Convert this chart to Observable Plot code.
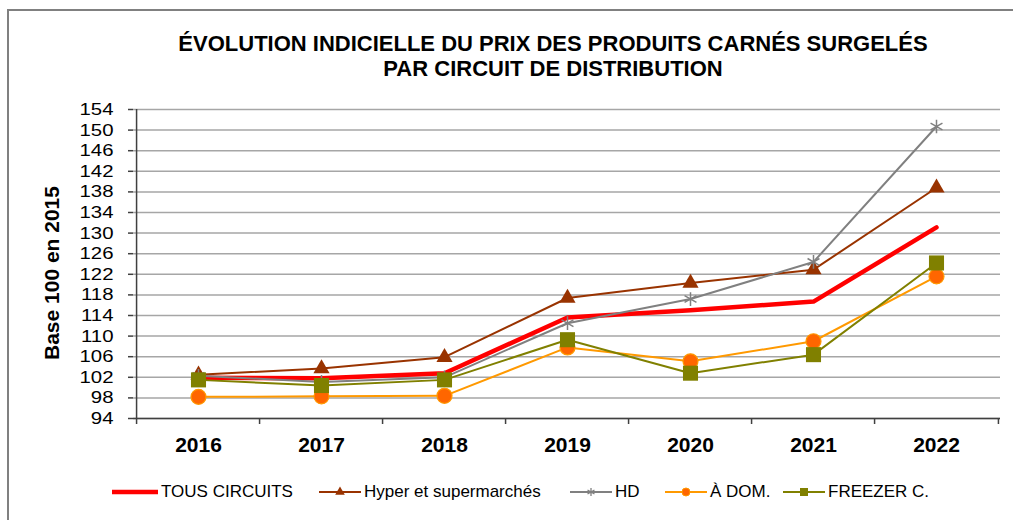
<!DOCTYPE html>
<html><head><meta charset="utf-8">
<script src="https://cdn.jsdelivr.net/npm/d3@7"></script>
<script src="https://cdn.jsdelivr.net/npm/@observablehq/plot@0.6"></script>
<style>
body{margin:0;background:#fff;font-family:"Liberation Sans",Arial,sans-serif;}
#wrap{position:relative;width:1013px;height:520px;overflow:hidden;background:#fff;}
#frame{position:absolute;left:7px;top:9px;right:-5px;bottom:-5px;border-left:2px solid #808080;border-top:2px solid #808080;}
#title{position:absolute;left:100px;width:906px;top:31px;text-align:center;font-weight:bold;font-size:22px;line-height:25px;color:#000;}
#chart{position:absolute;left:0;top:90px;}
#legend{position:absolute;top:481px;left:0;width:1013px;height:22px;font-size:17px;color:#000;}
.item{position:absolute;top:0;display:flex;align-items:center;height:22px;white-space:nowrap;}
.item svg{margin-right:3px;}
</style>
</head><body>
<div id="wrap">
  <div id="frame"></div>
  <div id="title">ÉVOLUTION INDICIELLE DU PRIX DES PRODUITS CARNÉS SURGELÉS<br>PAR CIRCUIT DE DISTRIBUTION</div>
  <div id="chart"></div>
  <div id="legend"></div>
</div>
<script>
const years = ["2016", "2017", "2018", "2019", "2020", "2021", "2022"];
const tousCircuits = [101.9, 101.8, 102.8, 113.6, 115.0, 116.7, 131.1];
const hyperSuper   = [102.5, 103.7, 105.9, 117.4, 120.3, 122.9, 138.8];
const hd           = [102.3, 101.1, 102.0, 112.5, 117.2, 124.4, 150.7];
const aDom         = [98.2, 98.3, 98.4, 107.8, 105.1, 109.0, 121.6];
const freezer      = [101.5, 100.4, 101.5, 109.3, 102.8, 106.4, 124.2];
const seriesNames  = ["TOUS CIRCUITS", "Hyper et supermarchés", "HD", "À DOM.", "FREEZER C."];
const yTicks = [94, 98, 102, 106, 110, 114, 118, 122, 126, 130, 134, 138, 142, 146, 150, 154];
const yLabel = "Base 100 en 2015";

const styles = [
  {stroke: "#ff0000", sw: 4.5, symbol: null},
  {stroke: "#993300", sw: 2, symbol: "triangle", fill: "#993300", r: 6},
  {stroke: "#808080", sw: 2, symbol: "asterisk", r: 6.5},
  {stroke: "#ff9900", sw: 2, symbol: "circle", fill: "#ff6600", r: 7.5},
  {stroke: "#808000", sw: 2, symbol: "square", fill: "#808000", r: 8.5}
];
const allValues = [tousCircuits, hyperSuper, hd, aDom, freezer];
const series = seriesNames.map((name, k) => ({
  name, style: styles[k],
  rows: years.map((year, i) => ({year, value: allValues[k][i], series: name}))
}));

const W = 1013, H = 380, mL = 133, mR = 13, mT = 19, mB = 52;
const half = (W - mL - mR) / years.length / 2;
const axisColor = "#404040";

const marks = [
  Plot.gridY(yTicks, {stroke: "#a6a6a6", strokeOpacity: 1, strokeWidth: 1.5}),
  Plot.ruleY([yTicks[0]], {stroke: axisColor, strokeWidth: 1.5}),
  Plot.ruleX([years[0]], {dx: -half, stroke: axisColor, strokeWidth: 1.5, insetBottom: -6}),
  Plot.ruleX(years.slice(1), {x: d => d, dx: -half, y1: yTicks[0], y2: yTicks[0], insetBottom: -6, stroke: axisColor, strokeWidth: 1.5}),
  Plot.ruleX([years[years.length - 1]], {x: d => d, dx: half, y1: yTicks[0], y2: yTicks[0], insetBottom: -6, stroke: axisColor, strokeWidth: 1.5}),
  Plot.axisY(yTicks, {tickSize: 5, tickPadding: 15, fontSize: 17, stroke: axisColor, strokeWidth: 1.5, label: null, fill: "#000"}),
  Plot.axisX({tickSize: 0, tickPadding: 19, fontSize: 21, fontWeight: "bold", label: null, fill: "#000"}),
  Plot.text([yLabel], {text: d => d, frameAnchor: "left", textAnchor: "middle", rotate: -90, dx: -81, dy: 9, fontSize: 21, fontWeight: "bold", fill: "#000"})
];
for (const s of series) {
  const st = s.style;
  marks.push(Plot.line(s.rows, {x: "year", y: "value", stroke: st.stroke, strokeWidth: st.sw}));
  if (st.symbol === "asterisk") {
    marks.push(Plot.dot(s.rows, {x: "year", y: "value", symbol: "asterisk", r: st.r, stroke: st.stroke, strokeWidth: 1.5, fill: "none"}));
  } else if (st.symbol === "circle") {
    marks.push(Plot.dot(s.rows, {x: "year", y: "value", symbol: "circle", r: st.r, fill: st.fill, stroke: st.stroke, strokeWidth: 1.2}));
  } else if (st.symbol) {
    marks.push(Plot.dot(s.rows, {x: "year", y: "value", symbol: st.symbol, r: st.r, fill: st.fill, stroke: "none"}));
  }
}

const chart = Plot.plot({
  width: W, height: H,
  marginLeft: mL, marginRight: mR, marginTop: mT, marginBottom: mB,
  style: {fontFamily: "'Liberation Sans', Arial, sans-serif", background: "transparent", color: "#000"},
  x: {type: "point", domain: years, padding: 0.5, axis: null},
  y: {domain: [yTicks[0], yTicks[yTicks.length - 1]], axis: null},
  marks
});
document.getElementById("chart").appendChild(chart);

// widen the y tick labels slightly, as in the reference rendering
d3.select(chart).selectAll("g[aria-label='y-axis tick label'] text").each(function () {
  const w = this.getComputedTextLength();
  this.setAttribute("textLength", (w * 1.2).toFixed(1));
  this.setAttribute("lengthAdjust", "spacingAndGlyphs");
});

// legend
const legendX = [112, 319, 570, 665, 783];
const legendW = [46, 42, 42, 42, 42];
const legend = d3.select("#legend");
series.forEach((s, k) => {
  const it = legend.append("div").attr("class", "item").style("left", legendX[k] + "px");
  const w = legendW[k];
  const svg = it.append("svg").attr("width", w).attr("height", 22);
  svg.append("line").attr("x1", 0).attr("x2", w).attr("y1", 11).attr("y2", 11)
    .attr("stroke", s.style.stroke).attr("stroke-width", s.style.sw).attr("stroke-linecap", k === 0 ? "round" : "butt");
  const sym = s.style.symbol;
  if (sym) {
    const symMap = {triangle: d3.symbolTriangle, asterisk: d3.symbolAsterisk, circle: d3.symbolCircle, square: d3.symbolSquare};
    const size = sym === "asterisk" ? 45 : sym === "square" ? 64 : sym === "circle" ? 50 : 40;
    const p = svg.append("path").attr("d", d3.symbol(symMap[sym], size)()).attr("transform", `translate(${w / 2},11)`);
    if (sym === "asterisk") p.attr("fill", "none").attr("stroke", s.style.stroke).attr("stroke-width", 1.3);
    else if (sym === "circle") p.attr("fill", s.style.fill).attr("stroke", s.style.stroke);
    else p.attr("fill", s.style.fill);
  }
  it.append("span").text(s.name);
});
</script>
</body></html>
